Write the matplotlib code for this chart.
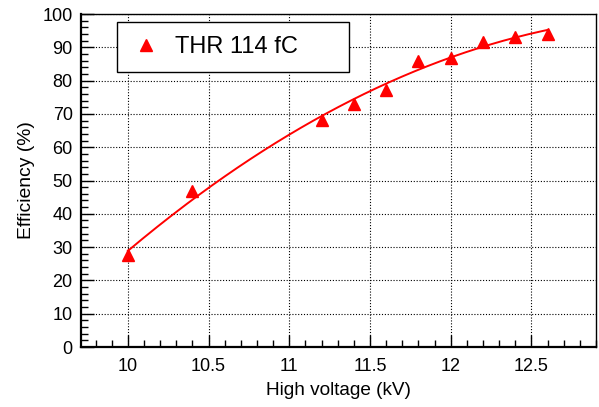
import numpy as np
import matplotlib
matplotlib.use('Agg')
import matplotlib.pyplot as plt
from matplotlib.ticker import MultipleLocator

plt.rcParams['font.family'] = ['Liberation Sans', 'DejaVu Sans']

## Data
hv = [10.0, 10.4, 11.2, 11.4, 11.6, 11.8, 12.0, 12.2, 12.4, 12.6]
eff = [27.7, 46.7, 68.2, 73.1, 77.1, 85.9, 86.9, 91.7, 93.2, 94.0]
label = 'THR 114 fC'

# quadratic fit, drawn over the measured range
coef = np.polyfit(hv, eff, 2)
xfit = np.linspace(min(hv), max(hv), 200)
yfit = np.polyval(coef, xfit)

fig = plt.figure(figsize=(5.99, 4.07), dpi=100)
ax = fig.add_axes([0.1352, 0.1474, 0.8598, 0.8182])

ax.plot(xfit, yfit, color='red', lw=1.4, zorder=3)
ax.plot(hv, eff, ls='none', marker='^', ms=8.8, color='red', mec='red',
        label=label, zorder=4)

ax.set_xlim(9.71, 12.9)
ax.set_ylim(0, 100)
ax.xaxis.set_minor_locator(MultipleLocator(0.1))
ax.yaxis.set_major_locator(MultipleLocator(10))
ax.yaxis.set_minor_locator(MultipleLocator(2))
ax.set_xticks([10, 10.5, 11, 11.5, 12, 12.5])
ax.set_xticklabels(['10', '10.5', '11', '11.5', '12', '12.5'])

ax.tick_params(which='both', direction='in', top=False, right=False,
               labelsize=13, colors='black')
ax.tick_params(which='major', length=9, width=1)
ax.tick_params(which='minor', length=5, width=1)
ax.tick_params(axis='x', pad=8)
ax.tick_params(axis='y', pad=6)

ax.grid(True, which='major', color='black', ls=(0, (1, 1.6)), lw=0.8)
ax.set_axisbelow(True)

for side in ['left', 'bottom']:
    ax.spines[side].set_linewidth(1.6)
for side in ['top', 'right']:
    ax.spines[side].set_linewidth(1.0)

ax.set_xlabel('High voltage (kV)', fontsize=13.7, labelpad=5)
ax.set_ylabel('Efficiency (%)', fontsize=13.9, labelpad=5)

leg = ax.legend(loc='lower left', bbox_to_anchor=(0.0699, 0.826, 0.450, 0.153),
                mode='expand', fontsize=17, frameon=True, fancybox=False,
                borderpad=0.59, handlelength=1.27, handletextpad=0.59,
                borderaxespad=0)
leg.get_frame().set_edgecolor('black')
leg.get_frame().set_linewidth(1.0)
leg.get_frame().set_alpha(1)

fig.savefig('out.png', dpi=100)
